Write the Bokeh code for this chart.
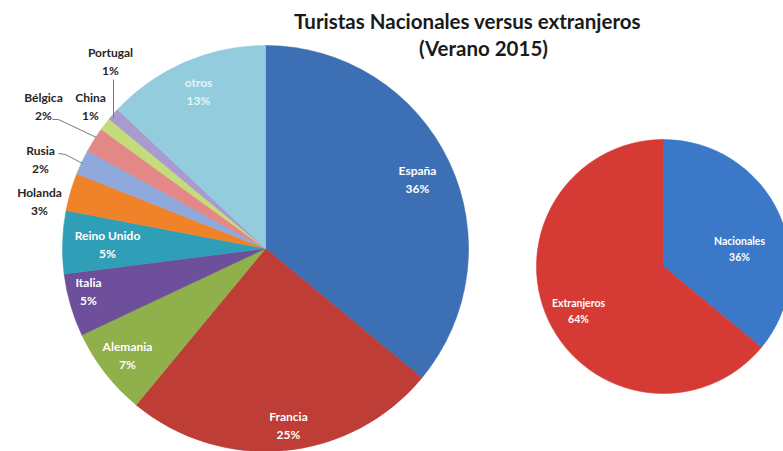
import math
from bokeh.plotting import figure
from bokeh.models import Range1d, ColumnDataSource
from bokeh.core.properties import value
from bokeh.embed import file_html
from bokeh.resources import INLINE

# ---- data ----
countries = ["España", "Francia", "Alemania", "Italia", "Reino Unido", "Holanda",
             "Rusia", "Bélgica", "China", "Portugal", "otros"]
country_shares = [36, 25, 7, 5, 5, 3, 2, 2, 1, 1, 13]
groups = ["Nacionales", "Extranjeros"]
group_shares = [36, 64]
title_lines = ["Turistas Nacionales versus extranjeros", "(Verano 2015)"]

# ---- styles / layout ----
country_colors = ["#3d6fb4", "#be3d36", "#8fb04a", "#6e4f9b", "#2f9fb8", "#f0832a",
                  "#8fa9dc", "#e38787", "#c4dc7a", "#a99bd0", "#93cddd"]
group_colors = ["#3b78c8", "#d63a34"]
# label anchor positions (page pixels) and text colours
country_label_pos = {
    "España": (417, 170), "Francia": (288, 416), "Alemania": (127, 346),
    "Italia": (88, 282), "Reino Unido": (107, 235), "Holanda": (39, 192),
    "Rusia": (40, 150), "Bélgica": (43, 97), "China": (90, 97),
    "Portugal": (110, 52), "otros": (198, 82),
}
outside = {"Holanda", "Rusia", "Bélgica", "China", "Portugal"}
group_label_pos = {"Nacionales": (739, 240), "Extranjeros": (578, 302)}
leaders = [
    [(52, 119), (58, 119), (96, 137)],
    [(58, 153), (65, 154), (82, 163)],
    [(113, 79), (113, 118)],
]

W, H = 783, 451
p = figure(width=W, height=H, output_backend="svg", toolbar_location=None,
           x_range=Range1d(0, W), y_range=Range1d(-H, 0),
           min_border=0, match_aspect=False)
p.axis.visible = False
p.grid.visible = False
p.outline_line_color = None
p.background_fill_color = "white"
p.border_fill_color = "white"


def wedges(shares, cx, cy, r, colors):
    total = float(sum(shares))
    starts, ends = [], []
    cum = 0.0
    for s in shares:
        starts.append(math.pi / 2 - 2 * math.pi * cum / total)
        cum += s
        ends.append(math.pi / 2 - 2 * math.pi * cum / total)
    src = ColumnDataSource(dict(start=starts, end=ends, color=colors))
    p.wedge(x=cx, y=-cy, radius=r, start_angle="start", end_angle="end",
            direction="clock", fill_color="color", line_color="color",
            line_width=0.6, source=src)


wedges(country_shares, 265, 248, 203, country_colors)
wedges(group_shares, 663, 266, 127, group_colors)

# leader lines
for pts in leaders:
    p.line([q[0] for q in pts], [-q[1] for q in pts], line_color="#7a7a7a", line_width=1)

FONT = "Lato"


def labels(names, shares, pos, size, colors, gap):
    xs, ys, txt, cols = [], [], [], []
    for n, s, c in zip(names, shares, colors):
        x, y = pos[n]
        xs += [x, x]
        ys += [-y, -(y + gap)]
        txt += [n, f"{s}%"]
        cols += [c, c]
    src = ColumnDataSource(dict(x=xs, y=ys, t=txt, c=cols))
    p.text(x="x", y="y", text="t", text_color="c", source=src,
           text_font=value(FONT), text_font_style="bold", text_font_size=size,
           text_align="center", text_baseline="middle")


clabel_colors = []
for n in countries:
    if n in outside:
        clabel_colors.append("#262626")
    elif n == "otros":
        clabel_colors.append("#e6f3f7")
    else:
        clabel_colors.append("#ffffff")
labels(countries, country_shares, country_label_pos, "12px", clabel_colors, 18)
labels(groups, group_shares, group_label_pos, "10.5px", ["#ffffff", "#ffffff"], 16)

# title
p.text(x=[467, 483], y=[-20, -47], text=title_lines, text_color="#1a1a1a",
       text_font=value(FONT), text_font_style="bold", text_font_size="20.5px",
       text_align="center", text_baseline="middle")

open("out.html", "w").write(file_html(p, INLINE))
